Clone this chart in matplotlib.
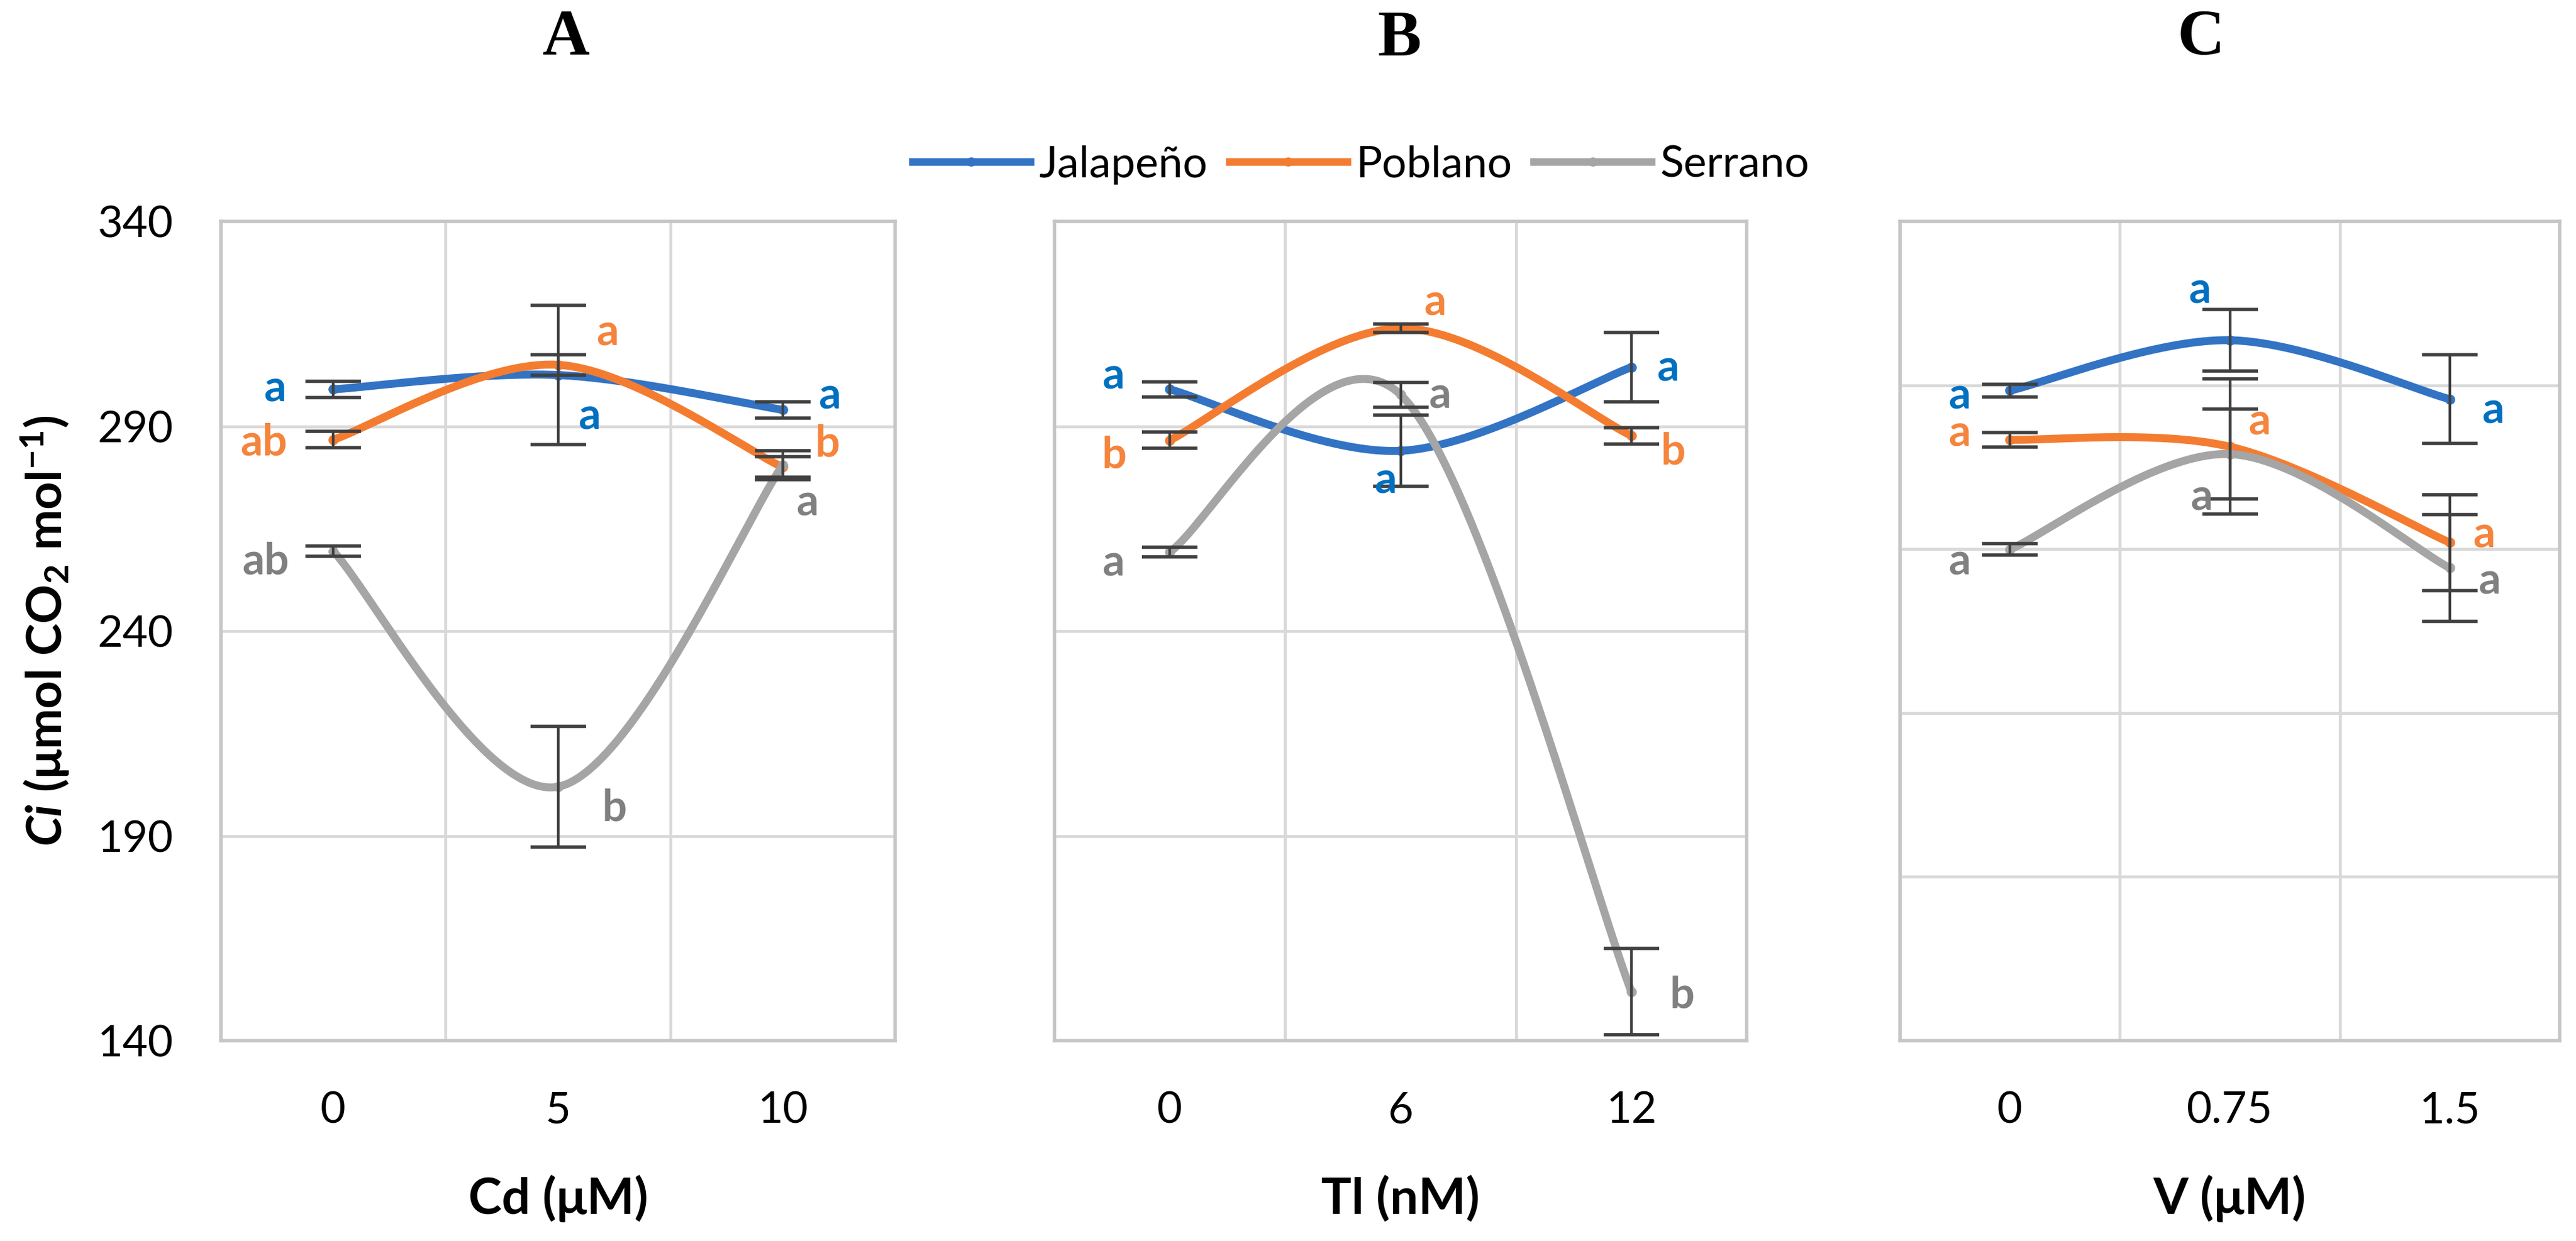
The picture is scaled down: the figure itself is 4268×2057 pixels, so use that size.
import numpy as np
import matplotlib
matplotlib.use('Agg')
import matplotlib.pyplot as plt
from matplotlib.lines import Line2D

plt.rcParams['font.family'] = ['Lato', 'DejaVu Sans']
plt.rcParams['mathtext.fontset'] = 'custom'
plt.rcParams['mathtext.rm'] = 'Lato'
plt.rcParams['mathtext.bf'] = 'Lato:bold'
plt.rcParams['mathtext.it'] = 'Lato:italic'
plt.rcParams['mathtext.bfit'] = 'Lato:bold:italic'

# ---- data ----
cultivars = ['Jalapeño', 'Poblano', 'Serrano']
panel_titles = ['A', 'B', 'C']
x_titles = ['Cd (μM)', 'Tl (nM)', 'V (μM)']
dose_labels = [['0', '5', '10'], ['0', '6', '12'], ['0', '0.75', '1.5']]

jalapeno_ci = [[299, 302.5, 294], [299, 284, 304.4], [298.7, 311, 296.6]]
jalapeno_se = [[2, 17, 2], [1.8, 8.7, 8.5], [1.6, 7.5, 10.8]]
poblano_ci = [[286.7, 305, 280], [286.6, 313.9, 287.7], [286.7, 285, 261.6]]
poblano_se = [[2, 2.5, 2.5], [2, 1, 2], [1.8, 16.5, 11.7]]
serrano_ci = [[259.5, 202, 280.5], [259.3, 297.7, 152], [259.9, 283.2, 255.4]]
serrano_se = [[1.2, 14.7, 3.5], [1.2, 3, 10.5], [1.4, 11, 13]]

jalapeno_letters = [['a', 'a', 'a'], ['a', 'a', 'a'], ['a', 'a', 'a']]
poblano_letters = [['ab', 'a', 'b'], ['b', 'a', 'b'], ['a', 'a', 'a']]
serrano_letters = [['ab', 'b', 'a'], ['a', 'a', 'b'], ['a', 'a', 'a']]

# ---- styling / layout ----
W, H, DPI = 4268, 2057, 100
line_colors = ['#3273C4', '#F47C30', '#A5A5A5']
text_colors = ['#0070C0', '#F5843C', '#808080']
ytick_steps = [50, 50, 40]
# axes boxes in pixels: left, right, top, bottom
boxes = [(366, 1483, 367, 1725), (1747, 2894, 367, 1725), (3148, 4241, 367, 1725)]
title_pos = [(938, 64), (2318, 66), (3647, 64)]

# letter offsets (dx in category units, dy in data units) per panel / cultivar
label_offsets = [
    [[(-0.26, 0), (0.14, -10.2), (0.21, 3.3)],
     [(-0.31, -0.7), (0.22, 7.8), (0.20, 5.6)],
     [(-0.30, -2.5), (0.25, -5.3), (0.11, -9.3)]],
    [[(-0.245, 3.2), (-0.065, -7.4), (0.16, -0.4)],
     [(-0.24, -3.8), (0.15, 6.2), (0.18, -3.9)],
     [(-0.245, -2.8), (0.17, -0.3), (0.22, -1)]],
    [[(-0.23, -1.4), (-0.136, 12), (0.196, -2.9)],
     [(-0.23, 1.4), (0.134, 5.9), (0.155, 1.8)],
     [(-0.23, -3.1), (-0.13, -10.6), (0.18, -3.3)]],
]


def smooth(x, y, n=80):
    # Excel-like smoothed line: Catmull-Rom through the points as cubic Bezier
    p = np.column_stack([x, y]).astype(float)
    pts = np.vstack([p[0], p, p[-1]])
    t = np.linspace(0, 1, n)[:, None]
    out = []
    for i in range(len(p) - 1):
        p0, p1, p2, p3 = pts[i], pts[i + 1], pts[i + 2], pts[i + 3]
        c1 = p1 + (p2 - p0) / 6
        c2 = p2 - (p3 - p1) / 6
        seg = (1 - t) ** 3 * p1 + 3 * (1 - t) ** 2 * t * c1 + 3 * (1 - t) * t ** 2 * c2 + t ** 3 * p2
        out.append(seg if i == 0 else seg[1:])
    return np.vstack(out)


means = [jalapeno_ci, poblano_ci, serrano_ci]
errs = [jalapeno_se, poblano_se, serrano_se]
letters = [jalapeno_letters, poblano_letters, serrano_letters]

fig = plt.figure(figsize=(W / DPI, H / DPI), dpi=DPI)

for k in range(3):
    l, r, t, b = boxes[k]
    ax = fig.add_axes([l / W, 1 - b / H, (r - l) / W, (b - t) / H])
    x = np.arange(3)
    for s in range(3):
        y = np.array(means[s][k])
        c = smooth(x, y)
        ax.plot(c[:, 0], c[:, 1], color=line_colors[s], lw=9.5, solid_capstyle='round', zorder=3 + s)
        ax.plot(x, y, 'o', color=line_colors[s], ms=11, zorder=3 + s)
        ax.errorbar(x, y, yerr=errs[s][k], fmt='none', ecolor='#404040', elinewidth=3.2,
                    capsize=33, capthick=4, zorder=7)
        for i in range(3):
            dx, dy = label_offsets[k][s][i]
            ax.text(i + dx, y[i] + dy, letters[s][k][i], color=text_colors[s], fontsize=52,
                    fontweight='bold', ha='center', va='center', zorder=10)

    ax.set_xlim(-0.5, 2.5)
    ax.set_ylim(140, 340)
    ax.set_xticks(x)
    ax.set_xticklabels(dose_labels[k], fontsize=52)
    ax.set_xticks(np.arange(-0.5, 2.51, 0.5), minor=True)
    ax.set_yticks(np.arange(140, 341, ytick_steps[k]))
    ax.grid(which='minor', axis='x', color='#D9D9D9', lw=3.5, zorder=0)
    ax.grid(which='major', axis='y', color='#D9D9D9', lw=3.5, zorder=0)
    ax.tick_params(which='both', length=0)
    ax.tick_params(axis='x', pad=60)
    ax.tick_params(axis='y', pad=57, labelsize=52)
    if k > 0:
        ax.set_yticklabels([])
    for sp in ax.spines.values():
        sp.set_color('#C6C6C6')
        sp.set_linewidth(4)
    ax.set_axisbelow(True)

    ax.set_xlabel(x_titles[k], fontsize=60, fontweight='bold', va='center')
    ax.xaxis.set_label_coords(0.5, -(1987 - b) / (b - t))
    if k == 0:
        ax.set_ylabel(r'$\mathbfit{Ci}\ \mathbf{(\mu mol\ CO_2\ mol^{-1})}$', fontsize=58, va='center')
        ax.yaxis.set_label_coords((75 - l) / (r - l), 0.5)

    tx, ty = title_pos[k]
    fig.text(tx / W, 1 - ty / H, panel_titles[k], family='Liberation Serif', fontweight='bold',
             fontsize=78, ha='center', va='center')

handles = [Line2D([], [], color=line_colors[s], lw=9, marker='o', ms=10) for s in range(3)]
fig.legend(handles, cultivars, loc='center', bbox_to_anchor=(2255 / W, 1 - 273 / H), ncol=3,
           frameon=False, fontsize=52, handlelength=2.7, handletextpad=0.2, columnspacing=0.5)

fig.savefig('out.png', dpi=DPI, facecolor='white')
